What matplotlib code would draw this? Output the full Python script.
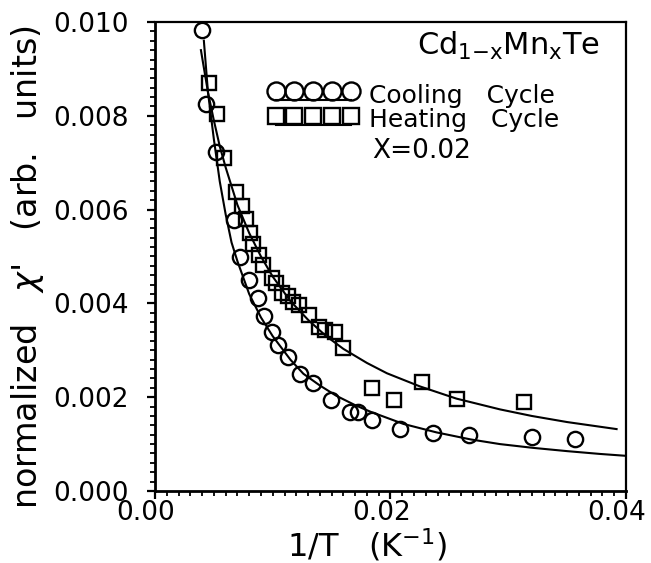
import matplotlib
matplotlib.use("Agg")
import matplotlib.pyplot as plt
from matplotlib.lines import Line2D
from matplotlib.legend_handler import HandlerLine2DCompound
from matplotlib.transforms import ScaledTranslation
from matplotlib.ticker import MultipleLocator, FixedLocator

plt.rcParams['font.family'] = ['DejaVu Sans']
plt.rcParams['mathtext.fontset'] = 'dejavusans'

# ---- data: cooling cycle (circles) ----
cool_x = [0.0040, 0.00435, 0.0052, 0.00673, 0.00726, 0.00796, 0.00878, 0.00927,
          0.0099, 0.01047, 0.01132, 0.01231, 0.01345, 0.01492, 0.01656, 0.01727,
          0.0184, 0.0208, 0.02358, 0.0267, 0.0320, 0.0357]
cool_y = [0.00982, 0.00825, 0.00722, 0.00577, 0.0050, 0.0045, 0.00412, 0.00374,
          0.0034, 0.00311, 0.00286, 0.00249, 0.0023, 0.00194, 0.00169, 0.00169,
          0.00151, 0.00132, 0.00123, 0.00119, 0.00115, 0.00110]

# ---- data: heating cycle (squares) ----
heat_x = [0.0046, 0.00524, 0.00584, 0.0069, 0.00736, 0.0077, 0.0081, 0.0083,
          0.0088, 0.0092, 0.0099, 0.0103, 0.0108, 0.0113, 0.0117, 0.01225,
          0.0131, 0.01395, 0.01444, 0.01529, 0.0160, 0.0184, 0.0203, 0.02265,
          0.02568, 0.0313]
heat_y = [0.00871, 0.00804, 0.00711, 0.00638, 0.00607, 0.0058, 0.00551, 0.00527,
          0.00504, 0.00481, 0.00454, 0.00443, 0.00423, 0.00416, 0.00404, 0.00397,
          0.00375, 0.00349, 0.00343, 0.00338, 0.00304, 0.00219, 0.00194, 0.00232,
          0.00196, 0.0019]

# ---- fitted curves ----
cool_fit_x = [0.00415, 0.0045, 0.0050, 0.0055, 0.0060, 0.0065, 0.0070, 0.0080,
              0.0090, 0.0100, 0.0115, 0.0126, 0.0140, 0.0154, 0.0170, 0.0183,
              0.0211, 0.0239, 0.0268, 0.0293, 0.0321, 0.0350, 0.0378, 0.0400]
cool_fit_y = [0.0096, 0.0085, 0.0075, 0.0066, 0.0059, 0.0053, 0.0049, 0.0042,
              0.0037, 0.0033, 0.0028, 0.00250, 0.00225, 0.00203, 0.00183, 0.00169,
              0.00143, 0.00125, 0.00110, 0.00100, 0.00092, 0.00085, 0.00079, 0.00075]

heat_fit_x = [0.0039, 0.0045, 0.0050, 0.0055, 0.0060, 0.0070, 0.0080, 0.0090,
              0.0100, 0.0115, 0.0130, 0.0145, 0.0160, 0.0180, 0.0197, 0.0225,
              0.0256, 0.0293, 0.0320, 0.0350, 0.0392]
heat_fit_y = [0.0094, 0.0085, 0.0079, 0.00735, 0.0069, 0.0061, 0.0055, 0.0050,
              0.00457, 0.00405, 0.00365, 0.00331, 0.00303, 0.00273, 0.00251, 0.00223,
              0.00197, 0.00174, 0.00160, 0.00147, 0.00132]

x_ticks = [0.00, 0.02, 0.04]
x_tick_labels = ["0.00", "0.02", "0.04"]
y_ticks = [0.000, 0.002, 0.004, 0.006, 0.008, 0.010]
y_tick_labels = ["0.000", "0.002", "0.004", "0.006", "0.008", "0.010"]

W, H = 651, 563
fig = plt.figure(figsize=(W / 100, H / 100), dpi=100)
L, R, T, B = 155, 626, 22, 491
ax = fig.add_axes([L / W, 1 - B / H, (R - L) / W, (B - T) / H])

ax.plot(cool_fit_x, cool_fit_y, color='k', lw=1.5)
ax.plot(heat_fit_x, heat_fit_y, color='k', lw=1.5)
ax.plot(cool_x, cool_y, ls='none', marker='o', ms=11, mfc='none', mec='k', mew=1.7)
ax.plot(heat_x, heat_y, ls='none', marker='s', ms=9.5, mfc='none', mec='k', mew=1.7)

ax.set_xlim(0, 0.04)
ax.set_ylim(0, 0.010)
ax.xaxis.set_major_locator(FixedLocator(x_ticks))
ax.set_xticklabels(x_tick_labels)
ax.yaxis.set_major_locator(FixedLocator(y_ticks))
ax.set_yticklabels(y_tick_labels)
ax.xaxis.set_minor_locator(MultipleLocator(0.001))
ax.yaxis.set_minor_locator(MultipleLocator(0.0002))

for s in ax.spines.values():
    s.set_linewidth(1.6)
ax.spines['bottom'].set_linewidth(2.0)
ax.spines['left'].set_linewidth(2.0)

ax.tick_params(which='major', direction='out', length=6, width=1.6,
               labelsize=19, top=False, right=False)
ax.tick_params(which='minor', direction='out', length=3.5, width=1.3,
               top=False, right=False)
ax.tick_params(axis='y', which='major', pad=13)
ax.tick_params(axis='x', which='major', pad=0.5)

shift = ScaledTranslation(-9 / 100, 0, fig.dpi_scale_trans)
for lab in ax.get_xticklabels():
    lab.set_transform(lab.get_transform() + shift)

ax.set_xlabel("1/T   (K$^{-1}$)", fontsize=23, va='center')
ax.xaxis.set_label_coords((367 - L) / (R - L), (B - 545) / (B - T))
ax.set_ylabel("normalized   $\\chi$'   (arb.   units)", fontsize=24, va='center')
ax.yaxis.set_label_coords((27 - L) / (R - L), (B - 267) / (B - T))

h_cool = Line2D([], [], color='k', lw=1.5, marker='o', ms=13, mfc='none', mec='k', mew=1.7)
h_heat = Line2D([], [], color='k', lw=1.5, marker='s', ms=11.5, mfc='none', mec='k', mew=1.7)


class UnderlineHandler(HandlerLine2DCompound):
    def create_artists(self, legend, orig_handle, xdescent, ydescent,
                       width, height, fontsize, trans):
        arts = super().create_artists(legend, orig_handle, xdescent, ydescent,
                                      width, height, fontsize, trans)
        line, marks = arts[0], arts[1]
        marks.set_ydata([y + 2.0 for y in marks.get_ydata()])
        line.set_ydata([y - 4.5 for y in line.get_ydata()])
        return arts


leg = ax.legend([h_cool, h_heat], ["Cooling   Cycle", "Heating   Cycle"],
                loc='upper left', bbox_to_anchor=((268 - L) / (R - L), (B - 83.5) / (B - T)),
                frameon=False, fontsize=18, numpoints=5, handlelength=3.6,
                handletextpad=0.45, labelspacing=0.03, borderpad=0, borderaxespad=0,
                handler_map={h_cool: UnderlineHandler(), h_heat: UnderlineHandler()})

ax.text((372 - L) / (R - L), (B - 158) / (B - T), "X=0.02", transform=ax.transAxes,
        fontsize=19, ha='left', va='baseline')
ax.text((600 - L) / (R - L), (B - 55) / (B - T),
        r"Cd$_{\mathrm{1{-}x}}$Mn$_{\mathrm{x}}$Te", transform=ax.transAxes,
        fontsize=22, ha='right', va='baseline')

fig.savefig("out.png", dpi=100)
